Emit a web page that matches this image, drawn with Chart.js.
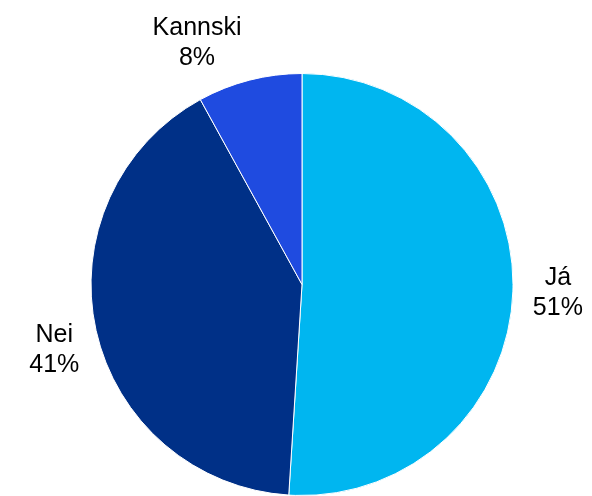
<!DOCTYPE html>
<html>
<head>
<meta charset="utf-8">
<script src="https://cdn.jsdelivr.net/npm/chart.js@4"></script>
<style>
  html, body { margin: 0; padding: 0; background: #fff; }
  #wrap { width: 592px; height: 496px; }
</style>
</head>
<body>
<div id="wrap"><canvas id="pie" width="592" height="496"></canvas></div>
<script>
// answer categories and shares (%)
const categories = ['Já', 'Nei', 'Kannski']
const shares = [51, 41, 8]
const sliceColors = ['#00B6F0', '#003087', '#1F4BE0']

// extra turn (degrees) for labels that would crowd a neighbour
const labelTurn = { Kannski: -8, Nei: -2 }

const outsideLabels = {
  id: 'outsideLabels',
  afterDatasetsDraw (chart) {
    const ctx = chart.ctx
    const meta = chart.getDatasetMeta(0)
    ctx.save()
    ctx.font = '25px "Liberation Sans", Arial, sans-serif'
    ctx.fillStyle = '#000'
    ctx.textAlign = 'center'
    ctx.textBaseline = 'middle'
    const lineH = 30
    meta.data.forEach((arc, i) => {
      const { x, y, startAngle, endAngle, outerRadius } = arc.getProps(['x', 'y', 'startAngle', 'endAngle', 'outerRadius'], true)
      const name = categories[i]
      let a = (startAngle + endAngle) / 2 + ((labelTurn[name] || 0) * Math.PI / 180)
      const dx = Math.cos(a)
      const dy = Math.sin(a)
      const lines = [name, shares[i] + '%']
      const w = Math.max(...lines.map(t => ctx.measureText(t).width))
      const h = lines.length * lineH
      const d = outerRadius + 20
      const cx = x + dx * d + dx * w / 2
      const cy = y + dy * d + dy * h / 2
      lines.forEach((t, k) => {
        ctx.fillText(t, cx, cy - h / 2 + lineH / 2 + k * lineH)
      })
    })
    ctx.restore()
  }
}

new Chart(document.getElementById('pie'), {
  type: 'pie',
  data: {
    labels: categories,
    datasets: [{
      data: shares,
      backgroundColor: sliceColors,
      borderColor: '#ffffff',
      borderWidth: 1
    }]
  },
  options: {
    responsive: false,
    animation: false,
    layout: { padding: { top: 73, bottom: -4, left: 88, right: 76 } },
    plugins: {
      legend: { display: false },
      tooltip: { enabled: false }
    }
  },
  plugins: [outsideLabels]
})
</script>
</body>
</html>
